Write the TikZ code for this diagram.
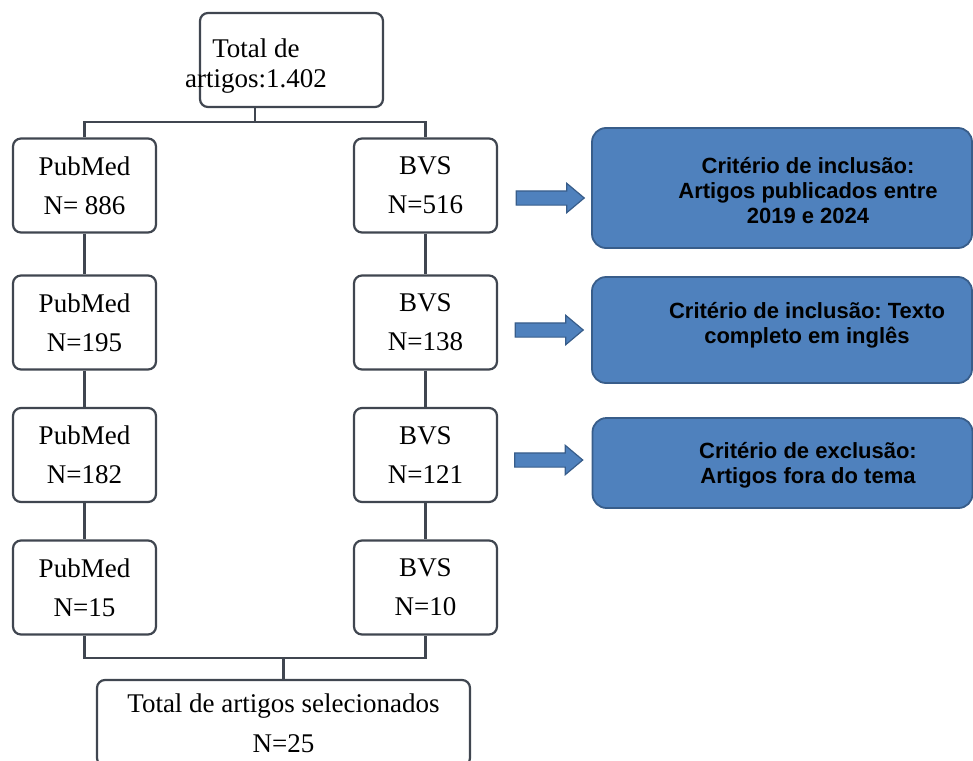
\documentclass[tikz,border=0pt]{standalone}
\usepackage{fontspec}
\setmainfont{Liberation Serif}
\newfontfamily\critfont{Liberation Sans}
\usetikzlibrary{shapes.arrows}

\definecolor{boxline}{RGB}{64,70,80}
\definecolor{critblue}{RGB}{79,129,189}
\definecolor{critline}{RGB}{56,93,138}

\begin{document}
\frenchspacing
\begin{tikzpicture}[x=1pt, y=-1pt,
  base/.style={draw=boxline, line width=2.2pt, rounded corners=8pt, fill=white, inner sep=0pt},
  src/.style={base, minimum width=143pt, minimum height=94pt, align=center, font=\fontsize{27}{39}\selectfont},
  crit/.style={draw=critline, line width=1.8pt, rounded corners=14pt, fill=critblue, inner sep=0pt, minimum width=380pt},
  crittxt/.style={align=center, inner sep=0pt, font=\critfont\bfseries\fontsize{22}{25}\selectfont},
  goarrow/.style={single arrow, draw=critline, fill=critblue, line width=1.2pt, minimum height=68pt, inner xsep=0pt, inner ysep=6.5pt, single arrow head extend=7.5pt, single arrow tip angle=80},
  link/.style={draw=boxline, line width=2.4pt}]
\useasboundingbox (0,0) rectangle (973,760);

% Total
\node[base, minimum width=183pt, minimum height=94pt] (total) at (291.5,60) {};
\node[align=center, inner sep=0pt, font=\fontsize{27}{30}\selectfont] (totaltxt) at (256,66) {Total de\\artigos:1.402};

% PubMed and BVS
\node[src] (pub1) at (84.5,185.5) {PubMed\\N= 886};
\node[src] (bvs1) at (425.5,185.5) {BVS\\N=516};
\node[src] (pub2) at (84.5,322.5) {PubMed\\N=195};
\node[src] (bvs2) at (425.5,322.5) {BVS\\N=138};
\node[src] (pub3) at (84.5,455) {PubMed\\N=182};
\node[src] (bvs3) at (425.5,455) {BVS\\N=121};
\node[src] (pub4) at (84.5,587.5) {PubMed\\N=15};
\node[src] (bvs4) at (425.5,587.5) {BVS\\N=10};

% selected
\node[base, minimum width=373pt, minimum height=86pt, align=center, font=\fontsize{27}{40}\selectfont] (final) at (283.5,723) {Total de artigos selecionados\\N=25};

% criteria
\node[crit, minimum height=120pt] (crit1) at (782,188) {};
\node[crittxt] (crit1txt) at (808,191) {Critério de inclusão:\\Artigos publicados entre\\2019 e 2024};
\node[crit, minimum height=106pt] (crit2) at (782,330) {};
\node[crittxt] (crit2txt) at (807,325) {Critério de inclusão: Texto\\completo em inglês};
\node[crit, minimum height=90pt] (crit3) at (782.5,463) {};
\node[crittxt] (crit3txt) at (808,465) {Critério de exclusão:\\Artigos fora do tema};

\node[goarrow] (arr1) at (546,198) {};
\node[goarrow] (arr2) at (545,330) {};
\node[goarrow] (arr3) at (544.5,460) {};

% connectors
\coordinate (split) at (255,122);
\coordinate (join) at (283.5,658);
\draw[link] (split |- total.south) -- (split);
\draw[link] (pub1.north) |- (split) -| (bvs1.north);
\draw[link] (pub1) -- (pub2);
\draw[link] (pub2) -- (pub3);
\draw[link] (pub3) -- (pub4);
\draw[link] (bvs1) -- (bvs2);
\draw[link] (bvs2) -- (bvs3);
\draw[link] (bvs3) -- (bvs4);
\draw[link] (pub4.south) |- (join) -| (bvs4.south);
\draw[link] (join) -- (final);
\end{tikzpicture}
\end{document}
